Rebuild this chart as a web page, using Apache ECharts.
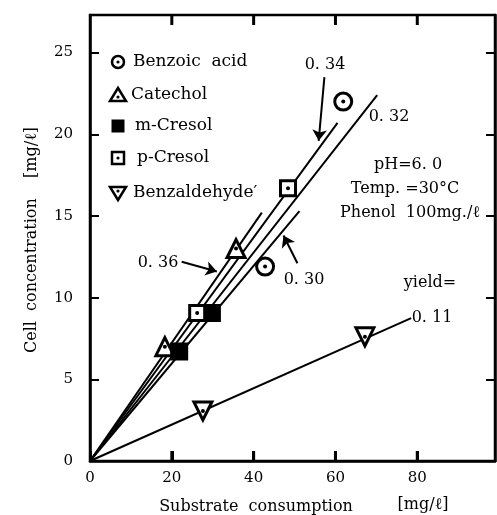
<!DOCTYPE html>
<html><head><meta charset="utf-8">
<script src="https://cdn.jsdelivr.net/npm/echarts@6/dist/echarts.min.js"></script>
<style>html,body{margin:0;padding:0;background:#fff}#c{width:497px;height:515px}</style>
</head><body><div id="c"></div>
<script>
// ---- data ----
const xTicks = [0, 20, 40, 60, 80];
const yTicks = [0, 5, 10, 15, 20, 25];
const benzoicAcid  = [[61.9, 22.0], [42.8, 11.9]];
const catechol     = [[18.3, 7.0], [35.7, 13.0]];
const mCresol      = [[21.8, 6.7], [29.8, 9.06]];
const pCresol      = [[26.2, 9.06], [48.4, 16.7]];
const benzaldehyde = [[27.6, 3.06], [67.2, 7.6]];
const yieldLabels  = ['0.36', '0.34', '0.32', '0.30', '0.11'];
const yieldLineEnds = [[42.0, 15.2], [60.5, 20.7], [70.2, 22.4], [51.2, 15.3], [78.5, 8.75]];
const legendNames = ['Benzoic  acid', 'Catechol', 'm-Cresol', 'p-Cresol', 'Benzaldehyde\u2032'];

const FONT = 'DejaVu Serif';
const X_MAX = 99, Y_MAX = 27.3;
const chart = echarts.init(document.getElementById('c'));

const lineSeries = yieldLineEnds.map((e, i) => ({
  type: 'line', name: 'yield ' + yieldLabels[i],
  data: [[0, 0], e], symbol: 'none', z: 2,
  lineStyle: {color: '#000', width: 2}, silent: true
}));

lineSeries[0].markLine = {
  silent: true,
  symbol: ['none', 'arrow'], symbolSize: 11,
  label: {show: false},
  lineStyle: {color: '#000', width: 2, type: 'solid'},
  data: [
    [{coord: [57.3, 23.5]}, {coord: [55.9, 19.6]}],
    [{coord: [22.4, 12.2]}, {coord: [31.0, 11.6]}],
    [{coord: [50.7, 12.1]}, {coord: [47.3, 13.8]}]
  ]
};

// inward x tick marks on bottom and top borders, drawn through the axis scale
const tickData = [];
xTicks.filter(v => v > 0).forEach(v => { tickData.push([v, 0]); tickData.push([v, Y_MAX]); });
const tickSeries = {
  type: 'custom', silent: true, z: 10, clip: false,
  data: tickData,
  renderItem: function (params, api) {
    const x = api.value(0), y = api.value(1);
    const p = api.coord([x, y]);
    const dir = y > 0 ? 1 : -1;
    return {
      type: 'line',
      shape: {x1: p[0], y1: p[1], x2: p[0], y2: p[1] + dir * 10},
      style: {stroke: '#000', lineWidth: 3}
    };
  }
};

function markerSeries(name, data, symbol, size, filled, rotate) {
  return {
    type: 'scatter', name: name, data: data, symbol: symbol, symbolSize: size,
    symbolRotate: rotate || 0, z: 5,
    itemStyle: {color: filled ? '#000' : '#fff', borderColor: '#000', borderWidth: 3, opacity: 1}
  };
}
function dotSeries(data) {
  return {type: 'scatter', data: data, symbol: 'circle', symbolSize: 4, z: 6,
    itemStyle: {color: '#000', opacity: 1}};
}

const series = lineSeries.concat([
  markerSeries(legendNames[0], benzoicAcid, 'circle', 17, false),
  dotSeries(benzoicAcid),
  markerSeries(legendNames[1], catechol, 'triangle', 18, false),
  dotSeries(catechol),
  markerSeries(legendNames[2], mCresol, 'rect', 15, true),
  markerSeries(legendNames[3], pCresol, 'rect', 15, false),
  dotSeries(pCresol),
  markerSeries(legendNames[4], benzaldehyde, 'triangle', 18, false, 180),
  dotSeries(benzaldehyde),
  tickSeries
]);

const txt = (x, y, text, align, size) => ({
  type: 'text', x: x, y: y, silent: true,
  style: {text: text, fill: '#000', font: (size || 16) + 'px "' + FONT + '"',
    textAlign: align || 'left', textVerticalAlign: 'middle'}
});

const legendY = [62, 95, 126, 158, 193];
const lx = 118;
const legendGraphics = [
  {type: 'circle', shape: {cx: lx, cy: legendY[0], r: 6}, style: {fill: '#fff', stroke: '#000', lineWidth: 2.5}},
  {type: 'circle', shape: {cx: lx, cy: legendY[0], r: 1.6}, style: {fill: '#000'}},
  {type: 'polygon', shape: {points: [[lx - 8, legendY[1] + 6], [lx + 8, legendY[1] + 6], [lx, legendY[1] - 7]]}, style: {fill: '#fff', stroke: '#000', lineWidth: 2.5}},
  {type: 'circle', shape: {cx: lx, cy: legendY[1] + 2, r: 1.6}, style: {fill: '#000'}},
  {type: 'rect', shape: {x: lx - 6.5, y: legendY[2] - 6.5, width: 13, height: 13}, style: {fill: '#000'}},
  {type: 'rect', shape: {x: lx - 6, y: legendY[3] - 6, width: 12, height: 12}, style: {fill: '#fff', stroke: '#000', lineWidth: 2.5}},
  {type: 'circle', shape: {cx: lx, cy: legendY[3], r: 1.6}, style: {fill: '#000'}},
  {type: 'polygon', shape: {points: [[lx - 8, legendY[4] - 6], [lx + 8, legendY[4] - 6], [lx, legendY[4] + 7]]}, style: {fill: '#fff', stroke: '#000', lineWidth: 2.5}},
  {type: 'circle', shape: {cx: lx, cy: legendY[4] - 2, r: 1.6}, style: {fill: '#000'}},
  txt(133, legendY[0], legendNames[0], 'left', 17),
  txt(131, legendY[1], legendNames[1], 'left', 17),
  txt(135, legendY[2], legendNames[2], 'left', 17),
  txt(137, legendY[3], legendNames[3], 'left', 17),
  txt(133, legendY[4], legendNames[4], 'left', 17)
];

const annot = [
  txt(325, 65, '0. 34', 'center', 16),
  txt(389, 117, '0. 32', 'center', 16),
  txt(158, 263, '0. 36', 'center', 16),
  txt(304, 280, '0. 30', 'center', 16),
  txt(432, 318, '0. 11', 'center', 16),
  txt(430, 283, 'yield=', 'center', 16),
  txt(408, 165, 'pH=6. 0', 'center', 16),
  txt(405, 189, 'Temp. =30\u00b0C', 'center', 16),
  txt(410, 213, 'Phenol  100mg./\u2113', 'center', 16),
  txt(256, 507, 'Substrate  consumption', 'center', 16),
  txt(423, 505, '[mg/\u2113]', 'center', 16),
  {type: 'text', x: 32, y: 240, rotation: Math.PI / 2, silent: true,
   style: {text: 'Cell  concentration    [mg/\u2113]', fill: '#000', font: '16px "' + FONT + '"',
     textAlign: 'center', textVerticalAlign: 'middle'}}
];

chart.setOption({
  animation: false,
  backgroundColor: '#fff',
  grid: {left: 90, right: 2, top: 15, bottom: 54, show: true, borderColor: '#000', borderWidth: 2.5},
  xAxis: [{
    type: 'value', position: 'bottom', min: 0, max: X_MAX, interval: 20,
    axisLine: {show: true, onZero: false, lineStyle: {color: '#000', width: 2.5}},
    axisTick: {show: true, inside: true, length: 10, lineStyle: {color: '#000', width: 3}},
    splitLine: {show: false},
    axisLabel: {color: '#000', fontFamily: FONT, fontSize: 15, margin: 10,
      showMaxLabel: false, formatter: v => xTicks.indexOf(v) >= 0 ? String(v) : ''}
  }],
  yAxis: [{
    type: 'value', position: 'left', min: 0, max: Y_MAX, interval: 5,
    axisLine: {show: true, onZero: false, lineStyle: {color: '#000', width: 2.5}},
    axisTick: {show: true, inside: true, length: 9, lineStyle: {color: '#000', width: 2}},
    splitLine: {show: false},
    axisLabel: {color: '#000', fontFamily: FONT, fontSize: 15, margin: 17,
      showMaxLabel: false, formatter: v => yTicks.indexOf(v) >= 0 ? String(v) : ''}
  }, {
    type: 'value', position: 'right', min: 0, max: Y_MAX, interval: 5,
    axisLine: {show: true, onZero: false, lineStyle: {color: '#000', width: 2.5}},
    axisTick: {show: true, inside: true, length: 9, lineStyle: {color: '#000', width: 2}},
    splitLine: {show: false}, axisLabel: {show: false}
  }],
  series: series,
  graphic: legendGraphics.concat(annot)
});
</script>
</body></html>
